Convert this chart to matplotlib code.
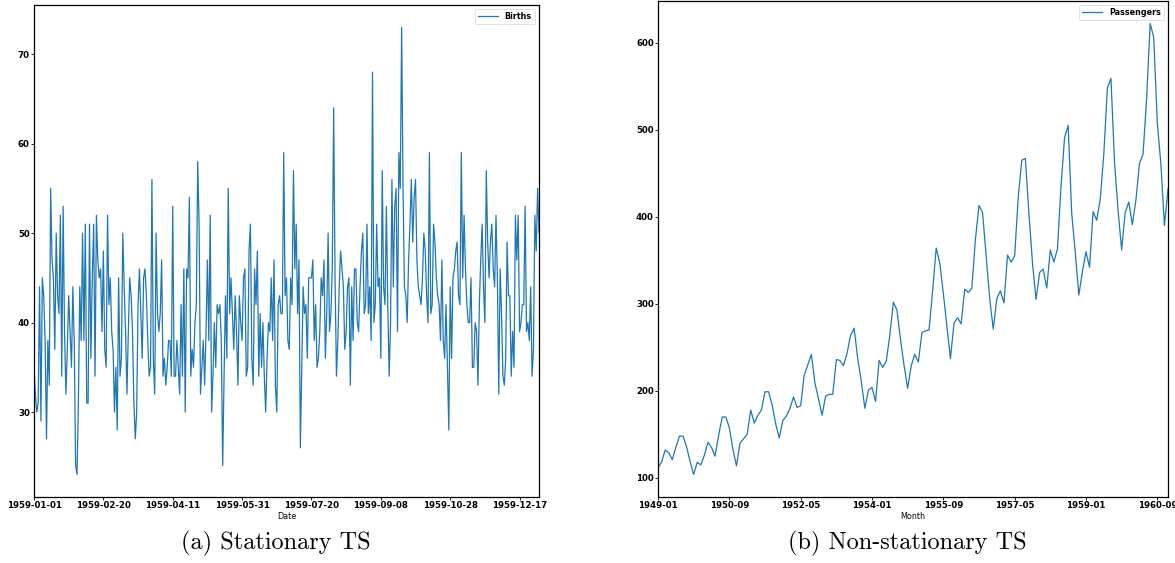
import numpy as np
import matplotlib
matplotlib.use("Agg")
import matplotlib.pyplot as plt

# Daily female births, 1959
births = [35, 32, 30, 31, 44, 29, 45, 43, 38, 27, 38, 33, 55, 47, 45, 37, 50, 43, 41, 52,
          34, 53, 39, 32, 37, 43, 39, 35, 44, 38, 24, 23, 31, 44, 38, 50, 38, 51, 31, 31,
          51, 36, 45, 51, 34, 52, 47, 45, 46, 39, 48, 37, 35, 52, 42, 45, 39, 37, 30, 35,
          28, 45, 34, 36, 50, 44, 39, 32, 39, 45, 43, 39, 31, 27, 30, 42, 46, 41, 36, 45,
          46, 43, 38, 34, 35, 56, 36, 32, 50, 41, 39, 41, 47, 34, 36, 33, 35, 38, 38, 34,
          53, 34, 34, 38, 35, 32, 42, 34, 46, 30, 46, 45, 54, 34, 37, 35, 40, 42, 58, 51,
          32, 35, 38, 33, 39, 47, 38, 52, 30, 34, 40, 35, 42, 41, 42, 38, 24, 34, 43, 36,
          55, 41, 45, 41, 37, 43, 39, 33, 43, 40, 38, 45, 46, 34, 35, 48, 51, 36, 33, 46,
          42, 48, 34, 41, 35, 40, 34, 30, 36, 40, 39, 45, 38, 47, 33, 30, 42, 43, 41, 41,
          59, 43, 45, 38, 37, 45, 42, 57, 46, 51, 41, 47, 26, 35, 44, 41, 42, 36, 45, 45,
          45, 47, 38, 42, 35, 36, 39, 45, 43, 47, 36, 41, 50, 39, 41, 46, 64, 45, 34, 38,
          44, 48, 46, 44, 37, 39, 44, 45, 33, 44, 38, 46, 46, 40, 39, 44, 48, 50, 41, 42,
          51, 41, 44, 38, 68, 40, 42, 51, 44, 45, 36, 57, 44, 42, 53, 42, 34, 40, 56, 44,
          53, 55, 39, 59, 55, 73, 55, 44, 43, 40, 47, 51, 56, 49, 54, 56, 47, 44, 43, 42,
          45, 50, 48, 43, 40, 59, 41, 42, 51, 49, 45, 43, 42, 38, 47, 38, 36, 42, 35, 28,
          44, 36, 45, 46, 48, 49, 43, 42, 59, 45, 52, 46, 42, 40, 40, 45, 35, 35, 40, 39,
          33, 42, 47, 51, 44, 40, 57, 49, 45, 49, 51, 46, 44, 52, 45, 32, 46, 41, 34, 33,
          36, 49, 43, 43, 34, 39, 35, 52, 47, 52, 39, 40, 42, 42, 53, 39, 40, 38, 44, 34,
          37, 52, 48, 55, 50]
births_ticks = ["1959-01-01", "1959-02-20", "1959-04-11", "1959-05-31",
                "1959-07-20", "1959-09-08", "1959-10-28", "1959-12-17"]

# Monthly airline passengers 1949-1960
passengers = [112, 118, 132, 129, 121, 135, 148, 148, 136, 119, 104, 118,
              115, 126, 141, 135, 125, 149, 170, 170, 158, 133, 114, 140,
              145, 150, 178, 163, 172, 178, 199, 199, 184, 162, 146, 166,
              171, 180, 193, 181, 183, 218, 230, 242, 209, 191, 172, 194,
              196, 196, 236, 235, 229, 243, 264, 272, 237, 211, 180, 201,
              204, 188, 235, 227, 234, 264, 302, 293, 259, 229, 203, 229,
              242, 233, 267, 269, 270, 315, 364, 347, 312, 274, 237, 278,
              284, 277, 317, 313, 318, 374, 413, 405, 355, 306, 271, 306,
              315, 301, 356, 348, 355, 422, 465, 467, 404, 347, 305, 336,
              340, 318, 362, 348, 363, 435, 491, 505, 404, 359, 310, 337,
              360, 342, 406, 396, 420, 472, 548, 559, 463, 407, 362, 405,
              417, 391, 419, 461, 472, 535, 622, 606, 508, 461, 390, 432]
passenger_ticks = ["1949-01", "1950-09", "1952-05", "1954-01",
                   "1955-09", "1957-05", "1959-01", "1960-09"]

TICK_FS = 6.2


def draw(ax, values, ticks, step, label, xlabel):
    x = np.arange(len(values))
    ax.plot(x, values, color="#1f77b4", lw=0.9, label=label)
    ax.set_xlim(0, len(values) - 1)
    ax.set_xticks(np.arange(len(ticks)) * step)
    ax.set_xticklabels(ticks)
    ax.set_xlabel(xlabel, fontsize=5.8, labelpad=1)
    ax.tick_params(length=2, width=0.6, pad=1, labelsize=TICK_FS)
    for t in ax.get_xticklabels() + ax.get_yticklabels():
        t.set_fontweight("bold")
    for s in ax.spines.values():
        s.set_linewidth(0.9)
    leg = ax.legend(loc="upper right", prop={"size": 5.8, "weight": "bold"},
                    handlelength=2.5, borderpad=0.4, borderaxespad=0.5)
    leg.get_frame().set_linewidth(0.5)


fig = plt.figure(figsize=(11.75, 5.63), dpi=100)

ax1 = fig.add_axes([34 / 1175, 1 - 497 / 563, 505 / 1175, 492 / 563])
draw(ax1, births, births_ticks, 50, "Births", "Date")
ax1.set_yticks([30, 40, 50, 60, 70])

ax2 = fig.add_axes([658 / 1175, 1 - 497 / 563, 510 / 1175, 496 / 563])
draw(ax2, passengers, passenger_ticks, 20, "Passengers", "Month")
ax2.set_yticks([100, 200, 300, 400, 500, 600])

fig.text(276 / 1175, 1 - 543 / 563, "(a) Stationary TS", family="cmr10",
         fontsize=17.5, ha="center", va="center")
fig.text(907 / 1175, 1 - 543 / 563, "(b) Non-stationary TS", family="cmr10",
         fontsize=17.5, ha="center", va="center")

fig.savefig("out.png", dpi=100)
